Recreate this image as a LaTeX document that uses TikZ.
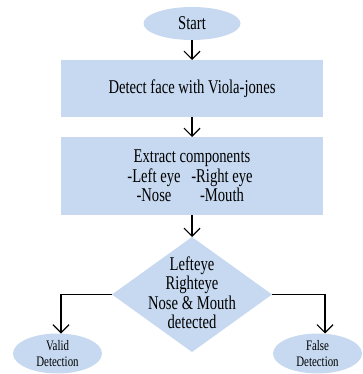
\documentclass[tikz,border=0pt]{standalone}
\usepackage{fontspec}
\setmainfont[FakeStretch=0.75]{Liberation Serif}
\usetikzlibrary{shapes.geometric,arrows.meta}
\definecolor{boxblue}{RGB}{198,217,240}
\begin{document}
\begin{tikzpicture}[x=1pt,y=-1pt,
  every node/.style={inner sep=0pt, outer sep=0pt},
  txt/.style={font=\fontsize{19.5}{19.5}\selectfont, align=center},
  small/.style={font=\fontsize{14.5}{16.5}\selectfont, align=center},
  bluebox/.style={fill=boxblue, draw=none, minimum width=262pt, anchor=north},
  oval/.style={ellipse, fill=boxblue, draw=none},
  conn/.style={line width=1.2pt, -{Straight Barb[length=8pt,width=16pt,line width=1.2pt]}}]
\useasboundingbox (0,0) rectangle (362,374);
\node[oval, minimum width=97pt, minimum height=33pt, txt] (s) at (192,23.5) {Start};
\node[bluebox, minimum height=57pt, txt] (b1) at (192,60) {Detect face with Viola-jones};
\node[bluebox, minimum height=78pt, txt] (b2) at (192,137) {Extract components\\\makebox[60pt]{-Left eye}\makebox[76pt]{-Right eye}\\\makebox[60pt]{-Nose}\makebox[76pt]{-Mouth}};
\node[diamond, fill=boxblue, minimum width=160pt, minimum height=115pt] (d) at (192,294.5) {};
\node[txt] (dt) at (192,292.5) {Lefteye\\Righteye\\Nose \& Mouth\\detected};
\node[oval, minimum width=89pt, minimum height=40pt, small] (v) at (57.5,353.5) {Valid\\Detection};
\node[oval, minimum width=89pt, minimum height=40pt, small] (f) at (317.5,353.5) {False\\Detection};
\draw[conn] (s.south) -- (b1.north);
\draw[conn] (b1.south) -- (b2.north);
\draw[conn] (b2.south) -- (d.north);
\draw[conn] (d.west) -| ([xshift=3.5pt]v.north);
\draw[conn] (d.east) -| ([xshift=7.5pt]f.north);
\end{tikzpicture}
\end{document}
